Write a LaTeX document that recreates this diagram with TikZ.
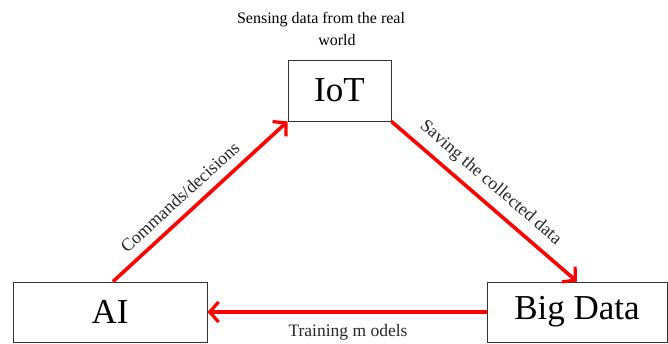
\documentclass[tikz,border=0pt]{standalone}
\usepackage{fontspec}
\setmainfont{Liberation Serif}
\usetikzlibrary{arrows.meta,calc}
\tikzset{
  box/.style={draw=black!80, line width=0.9pt, fill=white, inner sep=0pt,
    font=\fontsize{35}{40}\selectfont},
  flow/.style={draw=red, line width=3.6pt,
    -{Straight Barb[length=9pt,width=20pt,line width=3.2pt]}},
  lbl/.style={font=\fontsize{18}{20}\selectfont, text=black!85, inner sep=0pt},
}
\begin{document}
\begin{tikzpicture}[x=1pt,y=-1pt]
\useasboundingbox (0,0) rectangle (668,344);
\node[box, minimum width=103pt, minimum height=61pt] (iot) at (339.5,90.5) {IoT};
\node[box, minimum width=194pt, minimum height=60pt] (ai) at (110,312) {AI};
\node[box, minimum width=180pt, minimum height=60pt] (bd) at (577,312) {Big Data};
\node[font=\fontsize{16}{22}\selectfont, align=center, inner sep=0pt] (top) at (337,29) {Sensing data from the real\hspace*{2em}\\world};
\draw[flow] ([xshift=3pt]ai.north) -- (iot.south west)
  node[lbl, pos=0.45, sloped, above=9pt] (cmd) {Commands/decisions};
\draw[flow] (iot.south east) -- (bd.north)
  node[lbl, pos=0.47, sloped, above=8pt] (sav) {Saving the collected data};
\draw[flow] (bd.west) -- (ai.east);
\node[lbl, font=\fontsize{17.5}{18}\selectfont] (trn) at (348,332) {Training m odels};
\end{tikzpicture}
\end{document}
